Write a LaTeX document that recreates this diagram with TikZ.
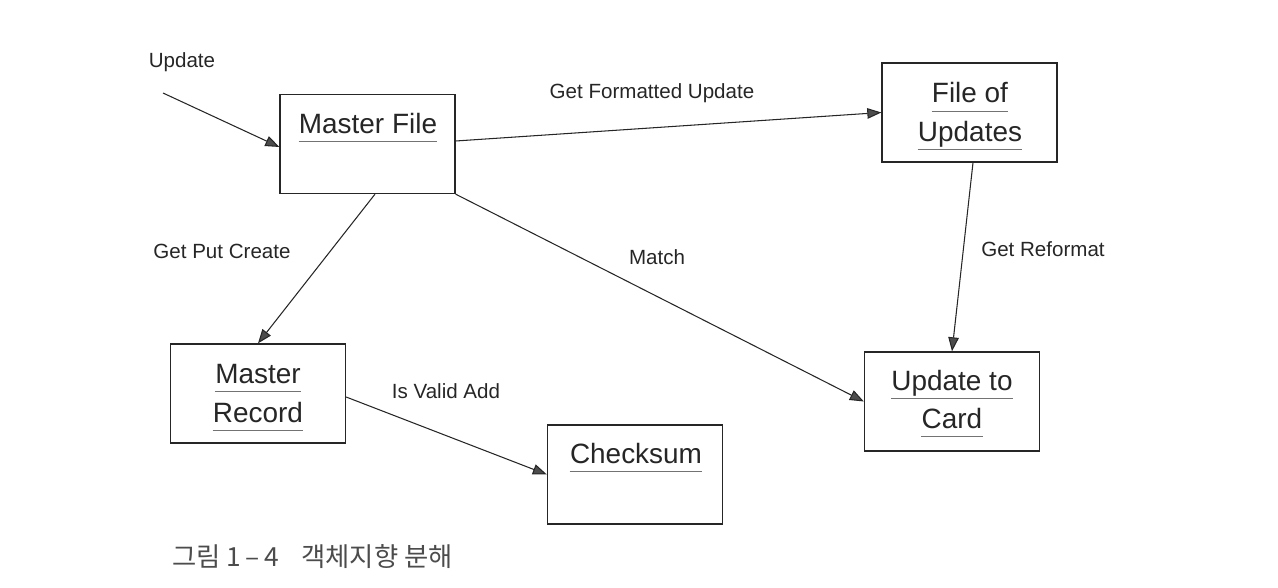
\documentclass[tikz,border=0pt]{standalone}
\usepackage{fontspec}
\setmainfont{Liberation Sans}
\newfontfamily\krfont{Noto Sans CJK KR}
\usetikzlibrary{arrows.meta}
\begin{document}
\begin{tikzpicture}[x=0.02cm, y=-0.02cm,
box/.style={draw=black!85, line width=0.75pt, inner sep=0pt, minimum width=3.5cm, minimum height=1.98cm},
ttl/.style={anchor=base, inner sep=0pt, font=\fontsize{15.9}{19}\selectfont, text=black!85},
ul/.style={draw=black!55, line width=0.55pt},
lbl/.style={inner sep=0pt, font=\fontsize{11.7}{14}\selectfont, text=black!85},
conn/.style={draw=black!85, line width=0.6pt, -{Triangle[length=8pt, width=6pt, fill=black!70]}}]
\useasboundingbox (0,0) rectangle (1278,588);
\node[box] (mf) at (367.5,144) {};
\node[box] (fu) at (969.5,112.5) {};
\node[box] (uc) at (952,401.5) {};
\node[box] (mr) at (258,393.5) {};
\node[box] (cs) at (635,474.5) {};
\node[ttl] (mft) at (368,133) {Master File};
\node[ttl] (fut1) at (970,103) {File of};
\node[ttl] (fut2) at (970,141) {Updates};
\node[ttl] (uct1) at (952,390) {Update to};
\node[ttl] (uct2) at (952,428) {Card};
\node[ttl] (mrt1) at (258,383) {Master};
\node[ttl] (mrt2) at (258,422) {Record};
\node[ttl] (cst) at (636,463) {Checksum};
\foreach \t in {mft,fut1,fut2,uct1,uct2,mrt1,mrt2,cst}
    \draw[ul] ([shift={(0,8)}]\t.base west) -- ([shift={(0,8)}]\t.base east);
\coordinate (upd) at (163,93);
\draw[conn] (upd) -- ([shift={(0,3)}]mf.west);
\draw[conn] ([shift={(0,-3)}]mf.east) -- (fu.west);
\draw[conn] ([shift={(7.5,0)}]mf.south) -- (mr.north);
\draw[conn] (mf.south east) -- (uc.west);
\draw[conn] ([shift={(3.5,0)}]fu.south) -- (uc.north);
\draw[conn] ([shift={(0,3.5)}]mr.east) -- (cs.west);
\node[lbl] (lupd) at (182,62) {Update};
\node[lbl] (lgfu) at (652,93) {Get Formatted Update};
\node[lbl] (lgpc) at (222,251) {Get Put Create};
\node[lbl] (lmat) at (657,257) {Match};
\node[lbl] (lgrf) at (1043,249) {Get Reformat};
\node[lbl] (liva) at (446,391) {Is Valid Add};
\node[anchor=west, inner sep=0pt, font=\krfont\fontsize{15}{18}\selectfont, text=black!70] (cap) at (172,557) {그림 1\,–\,4\hspace{0.85em}객체지향 분해};
\end{tikzpicture}
\end{document}
